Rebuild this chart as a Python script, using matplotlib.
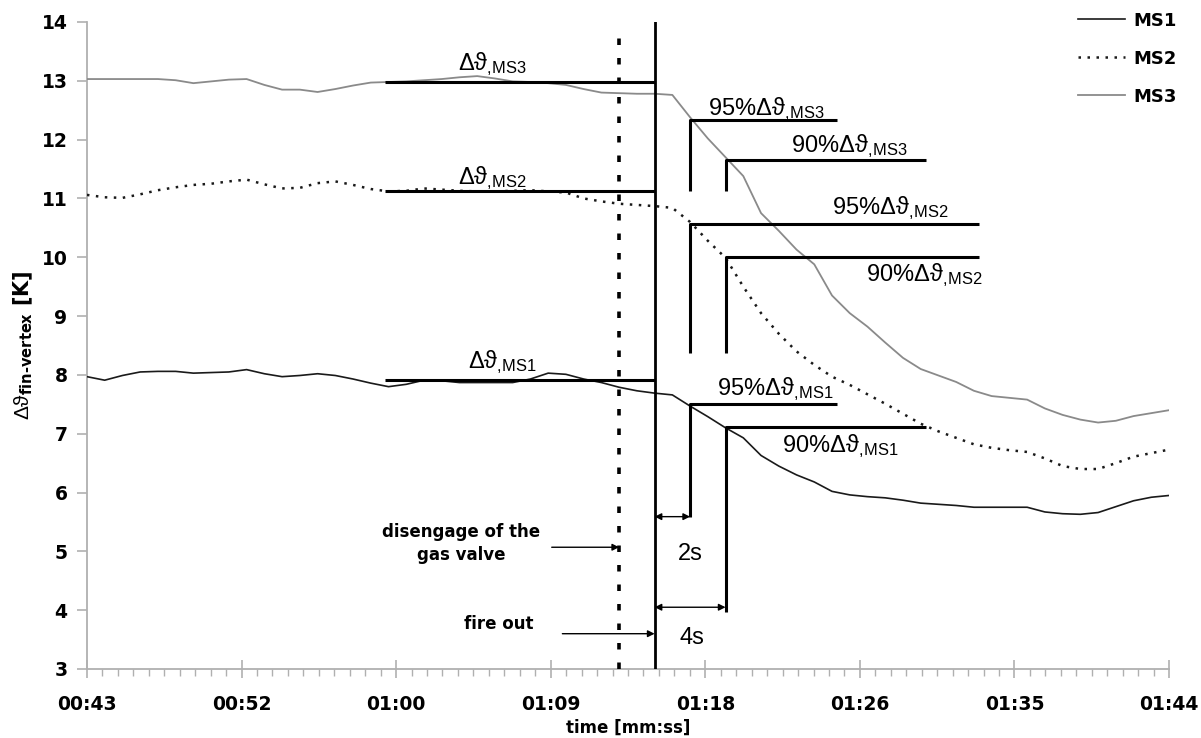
import numpy as np
import matplotlib
matplotlib.use('Agg')
import matplotlib.pyplot as plt

# fonts: plain annotations in an Arial-like face, bold axis text in DejaVu
plt.rcParams['font.family'] = ['Liberation Sans', 'DejaVu Sans']
plt.rcParams['mathtext.fontset'] = 'custom'
plt.rcParams['mathtext.rm'] = 'Liberation Sans'
plt.rcParams['mathtext.it'] = 'Liberation Sans:italic'
plt.rcParams['mathtext.bf'] = 'DejaVu Sans:bold'

# time axis in seconds (00:43 ... 01:44)
time_s = list(range(43, 105))

ms1 = [7.97, 7.91, 7.99, 8.05, 8.06, 8.06, 8.03, 8.04, 8.05, 8.09,
       8.02, 7.97, 7.99, 8.02, 7.99, 7.93, 7.86, 7.80, 7.84, 7.91,
       7.90, 7.87, 7.87, 7.87, 7.87, 7.93, 8.03, 8.01, 7.93, 7.87,
       7.79, 7.73, 7.69, 7.66, 7.47, 7.29, 7.10, 6.93, 6.63, 6.45,
       6.30, 6.18, 6.02, 5.96, 5.93, 5.91, 5.87, 5.82, 5.80, 5.78,
       5.75, 5.75, 5.75, 5.75, 5.67, 5.64, 5.63, 5.66, 5.76, 5.86,
       5.92, 5.95]
ms2 = [11.06, 11.02, 11.01, 11.07, 11.14, 11.19, 11.23, 11.25, 11.29, 11.32,
       11.24, 11.17, 11.18, 11.26, 11.29, 11.23, 11.16, 11.12, 11.13, 11.17,
       11.15, 11.13, 11.12, 11.12, 11.13, 11.14, 11.12, 11.10, 11.00, 10.95,
       10.91, 10.89, 10.87, 10.84, 10.60, 10.28, 9.99, 9.50, 9.05, 8.70,
       8.40, 8.17, 7.97, 7.83, 7.67, 7.51, 7.34, 7.17, 7.04, 6.93,
       6.82, 6.76, 6.72, 6.69, 6.58, 6.45, 6.40, 6.40, 6.50, 6.61,
       6.67, 6.73]
ms3 = [13.03, 13.03, 13.03, 13.03, 13.03, 13.01, 12.96, 12.99, 13.02, 13.03,
       12.93, 12.85, 12.85, 12.81, 12.86, 12.92, 12.97, 12.98, 12.99, 13.01,
       13.03, 13.06, 13.08, 13.04, 12.99, 12.98, 12.96, 12.93, 12.86, 12.80,
       12.79, 12.78, 12.78, 12.76, 12.38, 12.02, 11.70, 11.38, 10.75, 10.45,
       10.13, 9.88, 9.35, 9.05, 8.82, 8.55, 8.29, 8.10, 7.99, 7.88,
       7.73, 7.64, 7.61, 7.58, 7.43, 7.32, 7.24, 7.19, 7.22, 7.30,
       7.35, 7.40]

x_labels = ['00:43', '00:52', '01:00', '01:09', '01:18', '01:26', '01:35', '01:44']

# events (s)
t_gas = 73
t_fire = 75
t_95 = 77
t_90 = 79
t_start = 59.8

# steady state levels and the 95% / 90% marks
dt_ms1, dt_ms2, dt_ms3 = 7.92, 11.12, 12.98
p95_ms1, p90_ms1 = 7.50, 7.11
p95_ms2, p90_ms2 = 10.57, 10.01
p95_ms3, p90_ms3 = 12.34, 11.66

fig = plt.figure(figsize=(12.01, 7.38), dpi=100)
ax = fig.add_axes([0.0724, 0.0935, 0.901, 0.8767])

# data series
ax.plot(time_s, ms1, color='#1a1a1a', lw=1.2, label='MS1', zorder=3)
ax.plot(time_s, ms2, color='#1a1a1a', lw=1.8, linestyle=(0, (1.0, 2.6)), label='MS2', zorder=3)
ax.plot(time_s, ms3, color='#8a8a8a', lw=1.3, label='MS3', zorder=3)

# event lines
ax.plot([t_fire, t_fire], [3, 14], color='k', lw=2.0, zorder=4)
ax.plot([t_gas, t_gas], [3, 13.87], color='k', lw=2.6, linestyle=(0, (1.8, 3.6)), zorder=4)

thick = dict(color='k', lw=2.2, zorder=4, solid_capstyle='butt')
# steady levels
for lvl in [dt_ms1, dt_ms2, dt_ms3]:
    ax.plot([t_start, t_fire], [lvl, lvl], **thick)

# 95% / 90% brackets
ax.plot([t_95, t_95, 85.3], [11.13, p95_ms3, p95_ms3], **thick)
ax.plot([t_90, t_90, 90.3], [11.13, p90_ms3, p90_ms3], **thick)
ax.plot([t_95, t_95, 93.3], [8.37, p95_ms2, p95_ms2], **thick)
ax.plot([t_90, t_90, 93.3], [8.37, p90_ms2, p90_ms2], **thick)
ax.plot([t_95, t_95, 85.3], [5.58, p95_ms1, p95_ms1], **thick)
ax.plot([t_90, t_90, 90.3], [3.97, p90_ms1, p90_ms1], **thick)


def dlab(prefix, name):
    return prefix + r'$\mathrm{\Delta\vartheta}_{,\!\mathrm{' + name + '}}$'


# labels of levels
fs_a = 17
ax.text(63.9, 13.19, dlab('', 'MS3'), fontsize=fs_a, va='baseline')
ax.text(63.9, 11.24, dlab('', 'MS2'), fontsize=fs_a, va='baseline')
ax.text(64.5, 8.11, dlab('', 'MS1'), fontsize=fs_a, va='baseline')
ax.text(78.0, 12.42, dlab('95%', 'MS3'), fontsize=fs_a, va='baseline')
ax.text(82.7, 11.78, dlab('90%', 'MS3'), fontsize=fs_a, va='baseline')
ax.text(85.0, 10.73, dlab('95%', 'MS2'), fontsize=fs_a, va='baseline')
ax.text(86.9, 9.60, dlab('90%', 'MS2'), fontsize=fs_a, va='baseline')
ax.text(78.5, 7.65, dlab('95%', 'MS1'), fontsize=fs_a, va='baseline')
ax.text(82.2, 6.68, dlab('90%', 'MS1'), fontsize=fs_a, va='baseline')

# time differences
arr2 = dict(arrowstyle='<|-|>', color='k', lw=1.0, shrinkA=0, shrinkB=0, mutation_scale=10)
ax.annotate('', xy=(t_95, 5.59), xytext=(t_fire, 5.59), arrowprops=arr2)
ax.annotate('', xy=(t_90, 4.05), xytext=(t_fire, 4.05), arrowprops=arr2)
ax.text(77.0, 4.85, '2s', fontsize=fs_a, ha='center', va='baseline')
ax.text(77.1, 3.42, '4s', fontsize=fs_a, ha='center', va='baseline')

# event annotations
arr1 = dict(arrowstyle='-|>', color='k', lw=1.0, shrinkA=0, shrinkB=0, mutation_scale=10)
ax.annotate('', xy=(t_gas, 5.07), xytext=(69.2, 5.07), arrowprops=arr1)
ax.annotate('', xy=(t_fire, 3.6), xytext=(69.8, 3.6), arrowprops=arr1)
ax.text(64.1, 5.14, 'disengage of the\ngas valve', fontsize=12, fontweight='bold',
        family='DejaVu Sans', ha='center', va='center', linespacing=1.35)
ax.text(66.2, 3.76, 'fire out', fontsize=12, fontweight='bold',
        family='DejaVu Sans', ha='center', va='center')

# axes styling
ax.set_xlim(43, 104)
ax.set_ylim(3, 14)
ax.set_xticks(np.linspace(43, 104, 8))
ax.set_xticklabels(x_labels)
ax.set_xticks(np.linspace(43, 104, 71), minor=True)
ax.set_yticks(range(3, 15))

for s in ['top', 'right']:
    ax.spines[s].set_visible(False)
for s in ['left', 'bottom']:
    ax.spines[s].set_color('#b0b0b0')
    ax.spines[s].set_linewidth(1.3)

ax.tick_params(axis='x', which='major', direction='inout', length=13, width=1.2,
               color='#b0b0b0', pad=12)
ax.tick_params(axis='x', which='minor', direction='out', length=5, width=1.0, color='#b0b0b0')
ax.tick_params(axis='y', which='major', direction='out', length=7, width=1.2,
               color='#b0b0b0', pad=7)
for lab in ax.get_xticklabels() + ax.get_yticklabels():
    lab.set_family('DejaVu Sans')
    lab.set_fontweight('bold')
    lab.set_fontsize(13.5)

ax.set_xlabel('time [mm:ss]', fontsize=12, fontweight='bold', family='DejaVu Sans')
ax.xaxis.set_label_coords(0.5, -0.077)
ax.set_ylabel('$\\mathrm{\\Delta\\vartheta}_{\\mathbf{fin\u2010vertex}}$ [K]', fontsize=15,
              fontweight='bold', family='DejaVu Sans')
ax.yaxis.set_label_coords(-0.048, 0.5)

leg = ax.legend(loc='upper left', bbox_to_anchor=(1078 / 1201, 0.984),
                bbox_transform=fig.transFigure, frameon=False, borderpad=0,
                borderaxespad=0, handlelength=2.6, handletextpad=0.45,
                labelspacing=1.1, prop={'family': 'DejaVu Sans', 'weight': 'bold', 'size': 13})

fig.savefig('out.png', dpi=100)
